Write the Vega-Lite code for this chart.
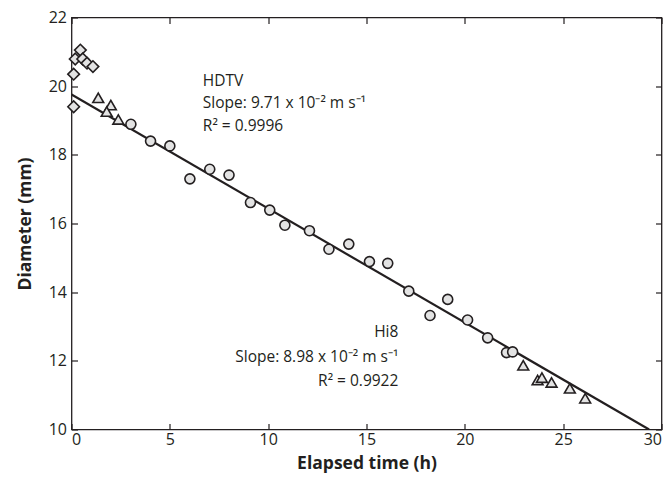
{
  "$schema": "https://vega.github.io/schema/vega-lite/v6.json",
  "width": 590,
  "height": 412,
  "autosize": {"type": "none"},
  "padding": {"left": 71.5, "top": 17.5, "right": 9.5, "bottom": 53.5},
  "background": "white",
  "config": {
    "view": {"stroke": "#231f20", "strokeWidth": 1.3},
    "font": "Open Sans",
    "axis": {
      "domain": false,
      "grid": false,
      "tickColor": "#231f20",
      "tickSize": -6,
      "tickWidth": 1.2,
      "labelColor": "#231f20",
      "labelFont": "Open Sans",
      "labelFontSize": 16,
      "titleColor": "#231f20",
      "titleFont": "Open Sans",
      "titleFontSize": 17.5,
      "titleFontWeight": "bold"
    }
  },
  "datasets": {
    "points": [
      {"t": 0.45, "d": 21.05, "cam": "HDTV-early"},
      {"t": 0.19, "d": 20.79, "cam": "HDTV-early"},
      {"t": 0.57, "d": 20.79, "cam": "HDTV-early"},
      {"t": 0.79, "d": 20.67, "cam": "HDTV-early"},
      {"t": 1.09, "d": 20.57, "cam": "HDTV-early"},
      {"t": 0.11, "d": 20.35, "cam": "HDTV-early"},
      {"t": 0.11, "d": 19.40, "cam": "HDTV-early"},
      {"t": 1.36, "d": 19.66, "cam": "Hi8"},
      {"t": 2.0, "d": 19.45, "cam": "Hi8"},
      {"t": 1.79, "d": 19.26, "cam": "Hi8"},
      {"t": 2.38, "d": 19.03, "cam": "Hi8"},
      {"t": 3.02, "d": 18.89, "cam": "HDTV"},
      {"t": 4.02, "d": 18.40, "cam": "HDTV"},
      {"t": 5.0, "d": 18.26, "cam": "HDTV"},
      {"t": 6.02, "d": 17.30, "cam": "HDTV"},
      {"t": 7.03, "d": 17.58, "cam": "HDTV"},
      {"t": 8.01, "d": 17.41, "cam": "HDTV"},
      {"t": 9.1, "d": 16.61, "cam": "HDTV"},
      {"t": 10.08, "d": 16.39, "cam": "HDTV"},
      {"t": 10.85, "d": 15.95, "cam": "HDTV"},
      {"t": 12.1, "d": 15.79, "cam": "HDTV"},
      {"t": 13.09, "d": 15.25, "cam": "HDTV"},
      {"t": 14.1, "d": 15.40, "cam": "HDTV"},
      {"t": 15.15, "d": 14.89, "cam": "HDTV"},
      {"t": 16.08, "d": 14.84, "cam": "HDTV"},
      {"t": 17.15, "d": 14.03, "cam": "HDTV"},
      {"t": 18.23, "d": 13.32, "cam": "HDTV"},
      {"t": 19.13, "d": 13.79, "cam": "HDTV"},
      {"t": 20.14, "d": 13.19, "cam": "HDTV"},
      {"t": 21.16, "d": 12.67, "cam": "HDTV"},
      {"t": 22.12, "d": 12.24, "cam": "HDTV"},
      {"t": 22.43, "d": 12.26, "cam": "HDTV"},
      {"t": 22.97, "d": 11.87, "cam": "Hi8"},
      {"t": 23.7, "d": 11.44, "cam": "Hi8"},
      {"t": 23.92, "d": 11.51, "cam": "Hi8"},
      {"t": 24.41, "d": 11.37, "cam": "Hi8"},
      {"t": 25.34, "d": 11.20, "cam": "Hi8"},
      {"t": 26.12, "d": 10.91, "cam": "Hi8"}
    ],
    "fit": [
      {"t": 0, "d": 19.76},
      {"t": 29.37, "d": 10.0}
    ],
    "labels": [
      {"t": 6.68, "d": 20.01, "side": "left", "lines": ["HDTV", "Slope: 9.71 x 10⁻² m s⁻¹", "R² = 0.9996"]},
      {"t": 16.62, "d": 12.69, "side": "right", "lines": ["Hi8", "Slope: 8.98 x 10⁻² m s⁻¹", "R² = 0.9922"]}
    ]
  },
  "layer": [
    {
      "data": {"name": "fit"},
      "mark": {"type": "line", "color": "#231f20", "strokeWidth": 2.2, "clip": true},
      "encoding": {
        "x": {"field": "t", "type": "quantitative", "scale": {"domain": [0, 30], "nice": false},
              "axis": {"orient": "bottom", "title": "Elapsed time (h)", "values": [0, 5, 10, 15, 20, 25, 30], "labelPadding": 8, "titlePadding": 7}},
        "y": {"field": "d", "type": "quantitative", "scale": {"domain": [10, 22], "nice": false, "zero": false},
              "axis": {"orient": "left", "title": "Diameter (mm)", "values": [10, 12, 14, 16, 18, 20, 22], "labelPadding": 11, "titlePadding": 14}}
      }
    },
    {
      "data": {"name": "fit"},
      "mark": {"type": "line", "opacity": 0},
      "encoding": {
        "x": {"field": "t", "type": "quantitative", "scale": {"domain": [0, 30], "nice": false},
              "axis": {"orient": "top", "title": null, "labels": false, "values": [0, 5, 10, 15, 20, 25, 30]}},
        "y": {"field": "d", "type": "quantitative", "scale": {"domain": [10, 22], "nice": false, "zero": false},
              "axis": {"orient": "right", "title": null, "labels": false, "values": [10, 12, 14, 16, 18, 20, 22]}}
      }
    },
    {
      "data": {"name": "points"},
      "mark": {"type": "point", "filled": false, "fill": "#e3e3e3", "fillOpacity": 1, "stroke": "#231f20", "strokeWidth": 1.6, "opacity": 1},
      "encoding": {
        "x": {"field": "t", "type": "quantitative", "axis": null},
        "y": {"field": "d", "type": "quantitative", "axis": null},
        "shape": {"field": "cam", "type": "nominal", "legend": null,
                  "scale": {"domain": ["HDTV-early", "Hi8", "HDTV"], "range": ["diamond", "triangle-up", "circle"]}},
        "size": {"field": "cam", "type": "nominal", "legend": null,
                 "scale": {"domain": ["HDTV-early", "Hi8", "HDTV"], "range": [135, 100, 72]}}
      }
    },
    {
      "data": {"name": "labels"},
      "transform": [{"filter": "datum.side === 'left'"}],
      "mark": {"type": "text", "align": "left", "baseline": "alphabetic", "fontSize": 15.5, "lineHeight": 22.5, "color": "#231f20", "font": "Open Sans"},
      "encoding": {
        "x": {"field": "t", "type": "quantitative", "axis": null},
        "y": {"field": "d", "type": "quantitative", "axis": null},
        "text": {"field": "lines"}
      }
    },
    {
      "data": {"name": "labels"},
      "transform": [{"filter": "datum.side === 'right'"}],
      "mark": {"type": "text", "align": "right", "baseline": "alphabetic", "fontSize": 15.5, "lineHeight": 24.5, "color": "#231f20", "font": "Open Sans"},
      "encoding": {
        "x": {"field": "t", "type": "quantitative", "axis": null},
        "y": {"field": "d", "type": "quantitative", "axis": null},
        "text": {"field": "lines"}
      }
    }
  ],
  "resolve": {"axis": {"x": "independent", "y": "independent"}}
}
